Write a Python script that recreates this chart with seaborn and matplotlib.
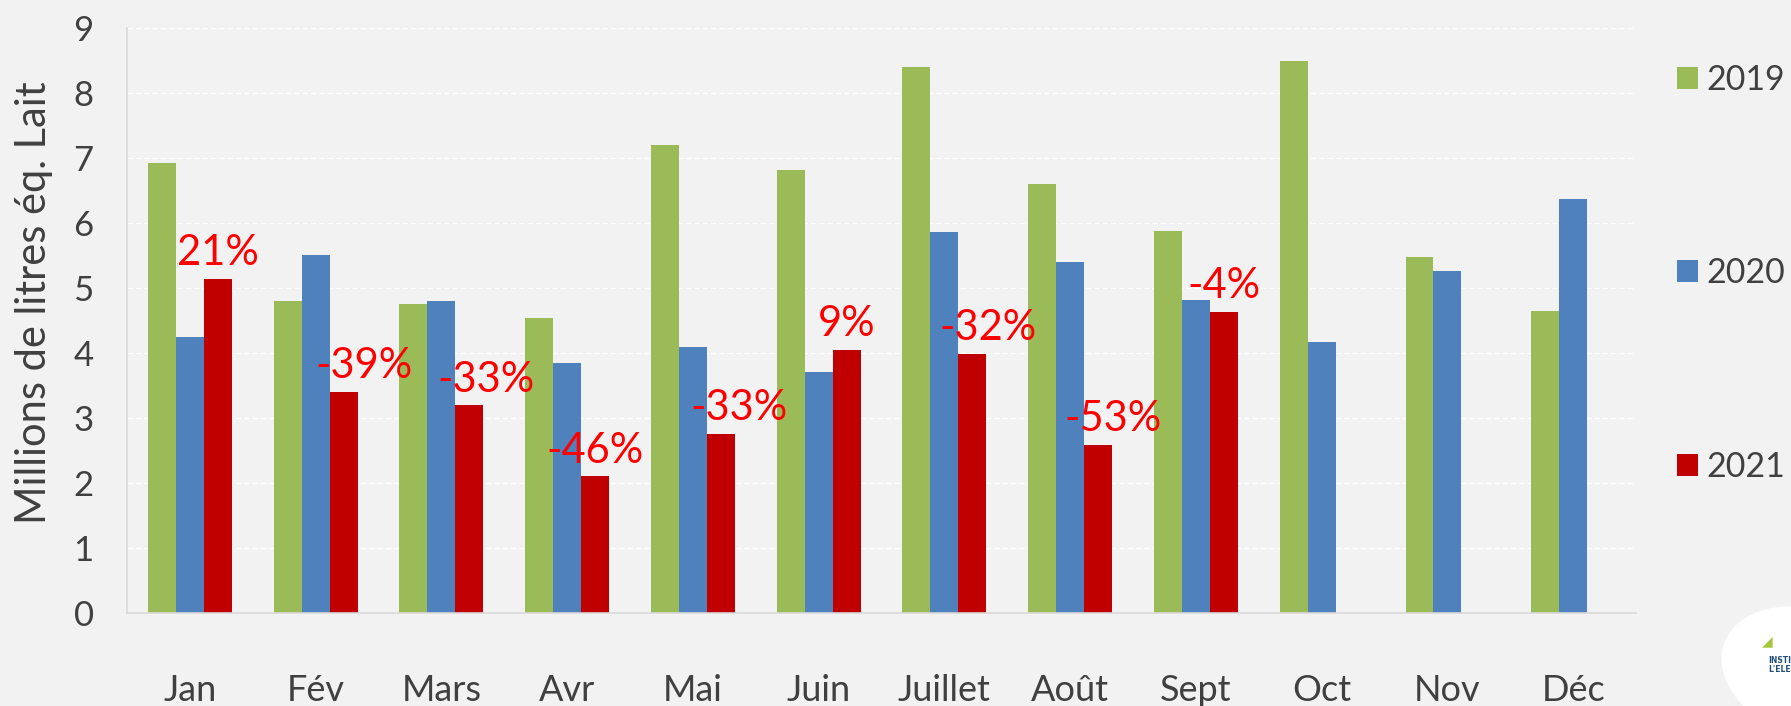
import numpy as np
import pandas as pd
import matplotlib.pyplot as plt
import seaborn as sns
from matplotlib.patches import Ellipse

# Données (millions de litres éq. lait)
mois = ['Jan', 'Fév', 'Mars', 'Avr', 'Mai', 'Juin', 'Juillet', 'Août', 'Sept', 'Oct', 'Nov', 'Déc']
annees = ['2019', '2020', '2021']
v2019 = [6.91, 4.79, 4.75, 4.53, 7.19, 6.81, 8.40, 6.60, 5.88, 8.49, 5.47, 4.65]
v2020 = [4.25, 5.51, 4.79, 3.84, 4.09, 3.70, 5.86, 5.40, 4.81, 4.16, 5.26, 6.37]
v2021 = [5.14, 3.40, 3.19, 2.10, 2.75, 4.04, 3.98, 2.58, 4.63]
evol = ['21%', '-39%', '-33%', '-46%', '-33%', '9%', '-32%', '-53%', '-4%']

# décalage horizontal des étiquettes (points)
label_dx = [0, 15, 12, 0, 13, 0, 11, 11, 0]

couleurs = {'2019': '#9BBB59', '2020': '#4F81BD', '2021': '#C00000'}
fond = '#F2F2F2'
gris = '#404040'

rows = []
for serie, vals in zip(annees, [v2019, v2020, v2021]):
    for m, v in zip(mois, vals):
        rows.append({'mois': m, 'annee': serie, 'valeur': v})
df = pd.DataFrame(rows)

sns.set_theme(style='white')
plt.rcParams['font.family'] = ['Lato', 'DejaVu Sans']

fig = plt.figure(figsize=(17.91, 7.06), dpi=100, facecolor=fond)
ax = fig.add_axes([0.0709, 0.1317, 0.8426, 0.8293])
ax.set_facecolor(fond)

sns.barplot(data=df, x='mois', y='valeur', hue='annee', order=mois, hue_order=annees,
            palette=couleurs, saturation=1, width=0.667, linewidth=0, errorbar=None,
            ax=ax, legend=True)

ax.set_ylim(0, 9)
ax.set_xlim(-0.5, len(mois) - 0.5)
ax.set_yticks(range(0, 10))
ax.yaxis.grid(True, color='white', linestyle=(0, (4, 2)), linewidth=1)
ax.set_axisbelow(True)

for s in ['top', 'right']:
    ax.spines[s].set_visible(False)
for s in ['left', 'bottom']:
    ax.spines[s].set_color('#D9D9D9')
    ax.spines[s].set_linewidth(1.2)

ax.tick_params(axis='y', length=0, pad=24, labelsize=25, labelcolor=gris)
ax.tick_params(axis='x', which='major', length=0, pad=44, labelsize=26, labelcolor=gris)
ax.set_xticks(np.arange(-0.5, len(mois), 1), minor=True)
ax.tick_params(axis='x', which='minor', length=10, width=1.2, color='#D9D9D9', direction='out')

ax.set_xlabel('')
ax.set_ylabel('Millions de litres éq. Lait', fontsize=30, color=gris, va='center')
ax.yaxis.set_label_coords(-0.0616, 0.53)

# étiquettes d'évolution au-dessus des barres 2021
barres_2021 = ax.containers[2]
for rect, txt, dx in zip(barres_2021, evol, label_dx):
    cx = rect.get_x() + rect.get_width() / 2
    ax.annotate(txt, (cx, rect.get_height()), xytext=(dx, 10), textcoords='offset points',
                ha='center', va='baseline', fontsize=30, color='#FF0000')

# légende à droite
handles, labels = ax.get_legend_handles_labels()
leg = ax.legend(handles, labels, loc='upper left',
                bbox_to_anchor=(1663 / 1791, 1 - 50 / 706), bbox_transform=fig.transFigure,
                frameon=False, fontsize=24.5, labelspacing=4.75, handlelength=0.62,
                handleheight=0.62, handletextpad=0.25, borderaxespad=0.0)
for t in leg.get_texts():
    t.set_color(gris)

# logo (partiel) en bas à droite
ell = Ellipse((1815 / 1791, 30 / 706), 0.1, 0.2, angle=10, transform=fig.transFigure,
              facecolor='white', edgecolor='none', zorder=5)
fig.patches.append(ell)
fig.text(1762 / 1791, 1 - 645 / 706, '◢', fontsize=10, color='#A5C739', zorder=6)
fig.text(1768 / 1791, 1 - 672 / 706, 'INSTITUT\nL\'ELEVAGE', fontsize=5.5, fontweight='bold',
         color='#1F4E79', zorder=6, linespacing=1.0, family=['DejaVu Sans'])

plt.savefig('out.png', dpi=100, facecolor=fond)
